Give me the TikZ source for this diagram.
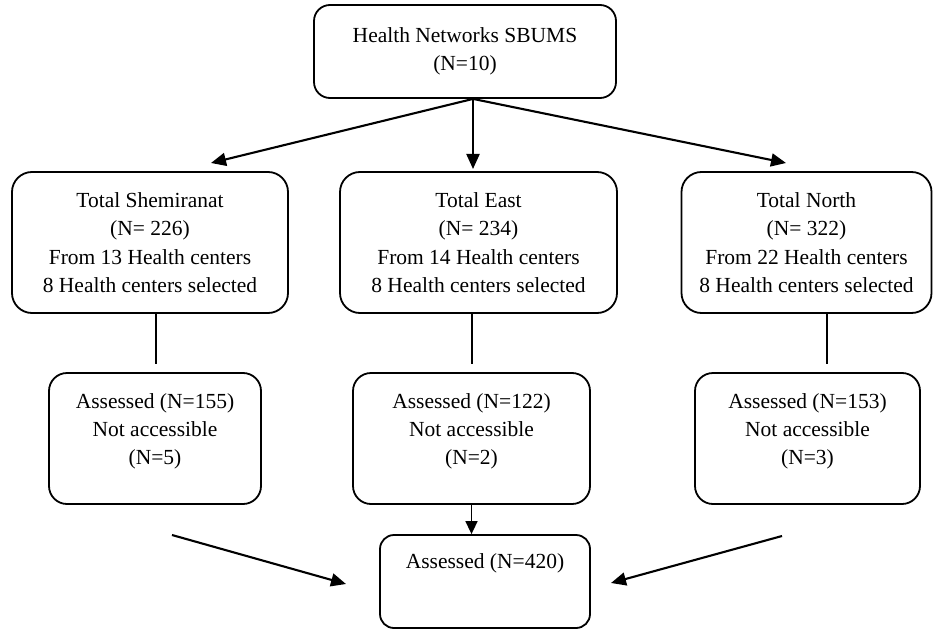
\documentclass[tikz,border=0pt]{standalone}
\usepackage{fontspec}
\setmainfont{Liberation Serif}
\usetikzlibrary{arrows.meta}
\begin{document}
\begin{tikzpicture}[x=1pt,y=-1pt,
  box/.style={draw, line width=1.8pt, rounded corners=#1, inner sep=0pt, align=center,
    font=\fontsize{21.5}{28.5}\selectfont},
  txt/.style={inner sep=0pt, align=center, font=\fontsize{21.5}{28}\selectfont},
  arr/.style={line width=2.1pt, -{Triangle[length=15pt,width=13pt]}},
  thin/.style={line width=1.3pt}]
\useasboundingbox (0,0) rectangle (933,631);
% boxes
\node[box=16pt, minimum width=302pt, minimum height=93pt] (top) at (465,51.5) {Health Networks SBUMS\\(N=10)};
\node[box=20pt, minimum width=276pt, minimum height=141pt] (L2) at (150,242.5)
  {Total Shemiranat\\(N= 226)\\From 13 Health centers\\8 Health centers selected};
\node[box=20pt, minimum width=277pt, minimum height=141pt] (M2) at (478.5,242.5)
  {Total East\\(N= 234)\\From 14 Health centers\\8 Health centers selected};
\node[box=20pt, minimum width=250pt, minimum height=141pt] (R2) at (806.5,242.5)
  {Total North\\(N= 322)\\From 22 Health centers\\8 Health centers selected};
\node[box=18pt, minimum width=212pt, minimum height=131pt] (L3) at (155,438.5) {};
\node[box=18pt, minimum width=237pt, minimum height=131pt] (M3) at (471.5,438.5) {};
\node[box=18pt, minimum width=225pt, minimum height=131pt] (R3) at (807.5,438.5) {};
\node[box=14pt, minimum width=210pt, minimum height=93pt] (B) at (485,581.5) {};
% texts
\node[txt] (L3t) at (155,431) {Assessed (N=155)\\Not accessible\\(N=5)};
\node[txt] (M3t) at (471.5,431) {Assessed (N=122)\\Not accessible\\(N=2)};
\node[txt] (R3t) at (807.5,431) {Assessed (N=153)\\Not accessible\\(N=3)};
\node[txt] (Bt) at (485,563) {Assessed (N=420)};
% free ends
\coordinate (tipL) at (211,163);
\coordinate (tipM) at (473,169);
\coordinate (tipR) at (786,163);
\coordinate (sL) at (172,535);
\coordinate (eL) at (346,584);
\coordinate (sR) at (782,536);
\coordinate (eR) at (611,583);
% connectors
\draw[arr] ([xshift=8pt]top.south) -- (tipL);
\draw[arr] ([xshift=8pt]top.south) -- (tipM);
\draw[arr] ([xshift=8pt]top.south) -- (tipR);
\draw[thin] ([xshift=6pt]L2.south) -- ++(0,50);
\draw[thin] ([xshift=-6.5pt]M2.south) -- ++(0,50);
\draw[thin] ([xshift=20.5pt]R2.south) -- ++(0,50);
\draw[line width=1.6pt, -{Triangle[length=13pt,width=12pt]}] (M3.south) -- (M3.south |- B.north);
\draw[arr] (sL) -- (eL);
\draw[arr] (sR) -- (eR);
\end{tikzpicture}
\end{document}
